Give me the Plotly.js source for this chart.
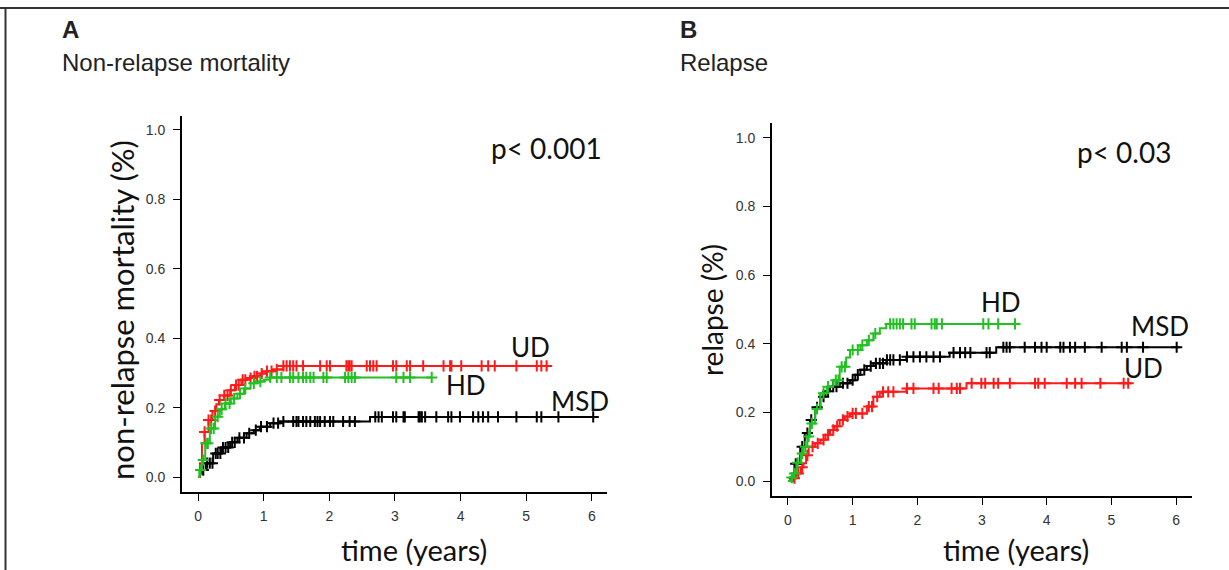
<!DOCTYPE html>
<html>
<head>
<meta charset="utf-8">
<script src="https://cdn.plot.ly/plotly-3.0.1.min.js"></script>
<style>html,body{margin:0;padding:0;background:#fff;}#chart{width:1229px;height:570px;}</style>
</head>
<body>
<div id="chart"></div>
<script>
// ---------- Panel A: Non-relapse mortality ----------
const tickLabelsX = ['0','1','2','3','4','5','6'];
const tickValsX = [0,1,2,3,4,5,6];
const tickValsY = [0,0.2,0.4,0.6,0.8,1.0];

const A_UD_t = [0,0.03,0.06,0.1,0.16,0.22,0.28,0.32,0.4,0.49,0.56,0.66,0.75,0.85,0.95,1.05,1.15,1.3,5.31];
const A_UD_v = [0,0.04,0.097,0.13,0.164,0.19,0.21,0.222,0.235,0.25,0.265,0.28,0.285,0.29,0.298,0.305,0.31,0.32,0.32];
const A_UD_cens = [0.1,0.16,0.2,0.26,0.33,0.4,0.45,0.5,0.58,0.62,0.68,0.72,0.8,0.86,0.9,0.97,1.05,1.12,1.2,1.3,1.35,1.4,1.45,1.5,1.6,1.86,1.96,2.01,2.26,2.29,2.31,2.34,2.57,2.62,2.67,2.72,2.97,3.02,3.18,3.23,3.43,3.74,3.84,3.86,4.01,4.32,4.42,4.52,4.85,5.16,5.23,5.31];

const A_HD_t = [0,0.02,0.06,0.11,0.18,0.26,0.33,0.41,0.5,0.6,0.7,0.8,0.9,1.0,1.1,3.56];
const A_HD_v = [0,0.02,0.049,0.097,0.14,0.174,0.195,0.212,0.226,0.24,0.255,0.27,0.275,0.28,0.287,0.287];
const A_HD_cens = [0.04,0.08,0.12,0.15,0.2,0.24,0.3,0.36,0.42,0.48,0.55,0.64,0.72,0.85,0.95,1.1,1.2,1.27,1.4,1.45,1.53,1.6,1.65,1.71,1.76,1.91,1.96,2.24,2.29,2.34,2.39,3.02,3.13,3.23,3.56];

const A_MSD_t = [0,0.03,0.06,0.12,0.23,0.35,0.49,0.6,0.74,0.85,0.94,1.1,1.25,2.62,6.05];
const A_MSD_v = [0,0.01,0.02,0.04,0.068,0.085,0.10,0.113,0.126,0.135,0.145,0.155,0.16,0.173,0.173];
const A_MSD_cens = [0.08,0.14,0.18,0.22,0.27,0.3,0.34,0.38,0.42,0.46,0.52,0.56,0.63,0.7,0.78,0.88,0.96,1.05,1.15,1.22,1.3,1.45,1.5,1.53,1.6,1.65,1.71,1.78,1.82,1.86,1.93,2.01,2.06,2.21,2.31,2.39,2.7,2.75,2.8,2.97,3.02,3.13,3.15,3.36,3.38,3.41,3.46,3.63,3.81,3.86,3.99,4.19,4.27,4.34,4.42,4.57,4.85,5.16,5.23,5.49,6.02];

// ---------- Panel B: Relapse ----------
const B_HD_t = [0,0.05,0.08,0.13,0.2,0.24,0.3,0.34,0.42,0.5,0.6,0.7,0.8,0.9,0.96,1.12,1.22,1.32,1.42,1.52,3.56];
const B_HD_v = [0,0.01,0.022,0.053,0.08,0.1,0.13,0.168,0.21,0.256,0.275,0.294,0.333,0.36,0.382,0.396,0.41,0.43,0.445,0.458,0.458];
const B_HD_cens = [0.06,0.1,0.15,0.22,0.27,0.32,0.37,0.45,0.55,0.62,0.74,0.78,0.83,0.88,1.0,1.08,1.15,1.25,1.35,1.58,1.63,1.68,1.73,1.78,1.91,1.96,2.22,2.27,2.3,2.38,3.02,3.1,3.25,3.51];

const B_MSD_t = [0,0.04,0.1,0.19,0.26,0.34,0.42,0.5,0.58,0.65,0.8,0.96,1.04,1.12,1.22,1.32,1.52,1.83,2.5,3.22,6.06];
const B_MSD_v = [0,0.01,0.05,0.1,0.14,0.178,0.215,0.246,0.262,0.275,0.285,0.294,0.31,0.324,0.335,0.343,0.353,0.362,0.374,0.39,0.39];
const B_MSD_cens = [0.12,0.22,0.3,0.36,0.45,0.55,0.62,0.7,0.75,0.85,0.92,1.0,1.08,1.18,1.28,1.36,1.42,1.47,1.53,1.58,1.63,1.73,1.84,1.94,2.04,2.14,2.25,2.35,2.56,2.66,2.74,2.82,3.07,3.12,3.33,3.38,3.43,3.66,3.82,3.92,4.0,4.21,4.26,4.36,4.44,4.59,4.85,5.16,5.24,5.49,6.01];

const B_UD_t = [0,0.08,0.13,0.2,0.24,0.28,0.32,0.42,0.5,0.58,0.65,0.72,0.8,0.88,0.96,1.12,1.22,1.32,1.42,1.47,1.83,2.76,5.31];
const B_UD_v = [0,0.008,0.022,0.04,0.052,0.075,0.1,0.11,0.12,0.135,0.149,0.16,0.178,0.188,0.197,0.197,0.217,0.246,0.256,0.26,0.27,0.285,0.285];
const B_UD_cens = [0.1,0.16,0.22,0.3,0.38,0.46,0.55,0.62,0.7,0.76,0.85,0.92,1.0,1.05,1.15,1.25,1.3,1.38,1.47,1.55,1.63,1.84,1.94,2.25,2.33,2.53,2.61,2.66,2.84,2.99,3.05,3.18,3.25,3.43,3.82,3.87,3.97,4.31,4.44,4.54,4.83,5.19,5.26];

const RED = '#ff1a1a', GREEN = '#22c022', BLACK = '#000000';

function stepAt(ts, vs, t) {
  let v = vs[0];
  for (let i = 0; i < ts.length; i++) { if (ts[i] <= t) v = vs[i]; }
  return v;
}

function curve(ts, vs, cens, color, xa, ya) {
  return [
    {x: ts, y: vs, xaxis: xa, yaxis: ya, type: 'scatter', mode: 'lines',
     line: {color: color, width: 2, shape: 'hv'}, hoverinfo: 'skip', showlegend: false},
    {x: cens, y: cens.map(t => stepAt(ts, vs, t)), xaxis: xa, yaxis: ya, type: 'scatter', mode: 'markers',
     marker: {symbol: 'cross-thin', size: 8, color: color, line: {color: color, width: 2}},
     hoverinfo: 'skip', showlegend: false}
  ];
}

const data = [].concat(
  curve(A_MSD_t, A_MSD_v, A_MSD_cens, BLACK, 'x', 'y'),
  curve(A_UD_t, A_UD_v, A_UD_cens, RED, 'x', 'y'),
  curve(A_HD_t, A_HD_v, A_HD_cens, GREEN, 'x', 'y'),
  curve(B_UD_t, B_UD_v, B_UD_cens, RED, 'x2', 'y2'),
  curve(B_MSD_t, B_MSD_v, B_MSD_cens, BLACK, 'x2', 'y2'),
  curve(B_HD_t, B_HD_v, B_HD_cens, GREEN, 'x2', 'y2')
);

const W = 1229, H = 570;
const px = x => x / W;
const py = y => 1 - y / H;

const tickFont = {family: 'Liberation Sans', size: 14, color: '#333'};
const labFont = {family: 'Lato', size: 26, color: '#111'};
const pFont = {family: 'Lato', size: 28, color: '#111'};
const axFont = {family: 'Lato', size: 29, color: '#111'};

function xAx(d0, d1, r0, r1, anchor) {
  return {domain: [px(d0), px(d1)], range: [r0, r1], anchor: anchor,
    showline: true, linecolor: '#000', linewidth: 2, showgrid: false, zeroline: false,
    ticks: 'outside', ticklen: 7, tickwidth: 1, tickcolor: '#000', ticklabelstandoff: 3,
    tickvals: tickValsX, ticktext: tickLabelsX, tickfont: tickFont, fixedrange: true};
}
function yAx(d0, d1, r0, r1, anchor) {
  return {domain: [py(d1), py(d0)], range: [r0, r1], anchor: anchor,
    showline: true, linecolor: '#000', linewidth: 2, showgrid: false, zeroline: false,
    ticks: 'outside', ticklen: 7, tickwidth: 1, tickcolor: '#000', ticklabelstandoff: 5,
    tickvals: tickValsY, tickformat: '.1f', tickfont: tickFont, fixedrange: true};
}

function ann(text, x, y, font, xanchor, extra) {
  return Object.assign({text: text, x: px(x), y: py(y), xref: 'paper', yref: 'paper',
    showarrow: false, font: font, xanchor: xanchor || 'left', yanchor: 'middle'}, extra || {});
}

const headFont = {family: 'Liberation Sans', size: 24, color: '#222'};
const layout = {
  width: W, height: H,
  margin: {l: 0, r: 0, t: 0, b: 0},
  paper_bgcolor: '#fff', plot_bgcolor: '#fff',
  showlegend: false,
  xaxis: xAx(182, 607, -0.244, 6.23, 'y'),
  yaxis: yAx(116, 492, -0.0432, 1.0403, 'x'),
  xaxis2: xAx(772, 1192, -0.247, 6.247, 'y2'),
  yaxis2: yAx(123, 496, -0.0437, 1.0437, 'x2'),
  shapes: [
    {type: 'line', xref: 'paper', yref: 'paper', x0: 0, x1: 1, y0: py(8), y1: py(8), line: {color: '#333', width: 2}},
    {type: 'line', xref: 'paper', yref: 'paper', x0: px(5.5), x1: px(5.5), y0: 0, y1: py(8), line: {color: '#333', width: 2}}
  ],
  annotations: [
    ann('<b>A</b>', 60, 30, headFont),
    ann('Non-relapse mortality', 60, 62, headFont),
    ann('<b>B</b>', 678, 30, headFont),
    ann('Relapse', 678, 62, headFont),
    ann('p< 0.001', 489, 148, pFont),
    ann('p< 0.03', 1075, 152, pFont),
    ann('UD', 509, 347, labFont),
    ann('HD', 444, 385, labFont),
    ann('MSD', 549, 401, labFont),
    ann('HD', 979, 302, labFont),
    ann('MSD', 1129, 326, labFont),
    ann('UD', 1122, 368, labFont),
    ann('time (years)', 414, 549, axFont, 'center'),
    ann('time (years)', 1016, 549, axFont, 'center'),
    ann('non-relapse mortality (%)', 122, 310, {family: 'Lato', size: 31, color: '#111'}, 'center', {textangle: -90}),
    ann('relapse (%)', 712, 310, {family: 'Lato', size: 28, color: '#111'}, 'center', {textangle: -90})
  ]
};

Plotly.newPlot('chart', data, layout, {displayModeBar: false, staticPlot: true});
</script>
</body>
</html>
